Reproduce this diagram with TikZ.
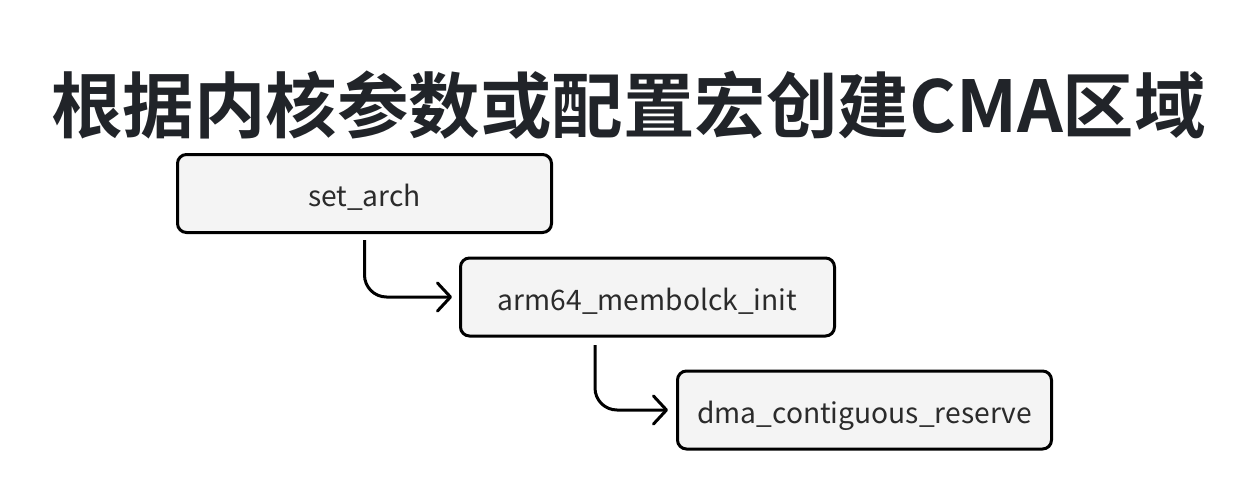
\documentclass[tikz,border=0pt]{standalone}
\usepackage{fontspec}
\setmainfont{Noto Sans CJK SC}
\newfontfamily\titlefont{Noto Sans CJK SC Bold}
\usetikzlibrary{arrows.meta}
\definecolor{boxfill}{HTML}{F4F4F4}
\definecolor{titlecol}{HTML}{212429}
\definecolor{txtcol}{HTML}{2B2B2B}
\tikzset{
  stepbox/.style={draw=black, line width=3pt, fill=boxfill, rounded corners=9pt,
    minimum width=374pt, minimum height=78pt, inner sep=0pt,
    text height=30pt, text depth=4pt,
    font=\fontsize{28.2}{32}\selectfont, text=txtcol},
  conn/.style={draw=black, line width=3pt, rounded corners=22pt,
    -{Straight Barb[length=13pt,width=28pt,line cap=round,line join=round]}},
}
\begin{document}
\begin{tikzpicture}[x=1pt,y=-1pt]
\useasboundingbox (0,0) rectangle (1260,500);
\node[anchor=base, font=\titlefont\fontsize{71.5}{80}\selectfont, text=titlecol] (title) at (628.5,132) {根据内核参数或配置宏创建CMA区域};
\node[stepbox] (b1) at (364.5,193.5) {set\_arch};
\node[stepbox] (b2) at (647.5,297) {arm64\_membolck\_init};
\node[stepbox] (b3) at (864.5,410) {dma\_contiguous\_reserve};
\coordinate (s2) at (595,337);
\draw[conn, shorten <=6pt, shorten >=7pt] (b1.south) |- (b2.west);
\draw[conn, shorten <=8pt, shorten >=8pt] (s2) |- (b3.west);
\end{tikzpicture}
\end{document}
